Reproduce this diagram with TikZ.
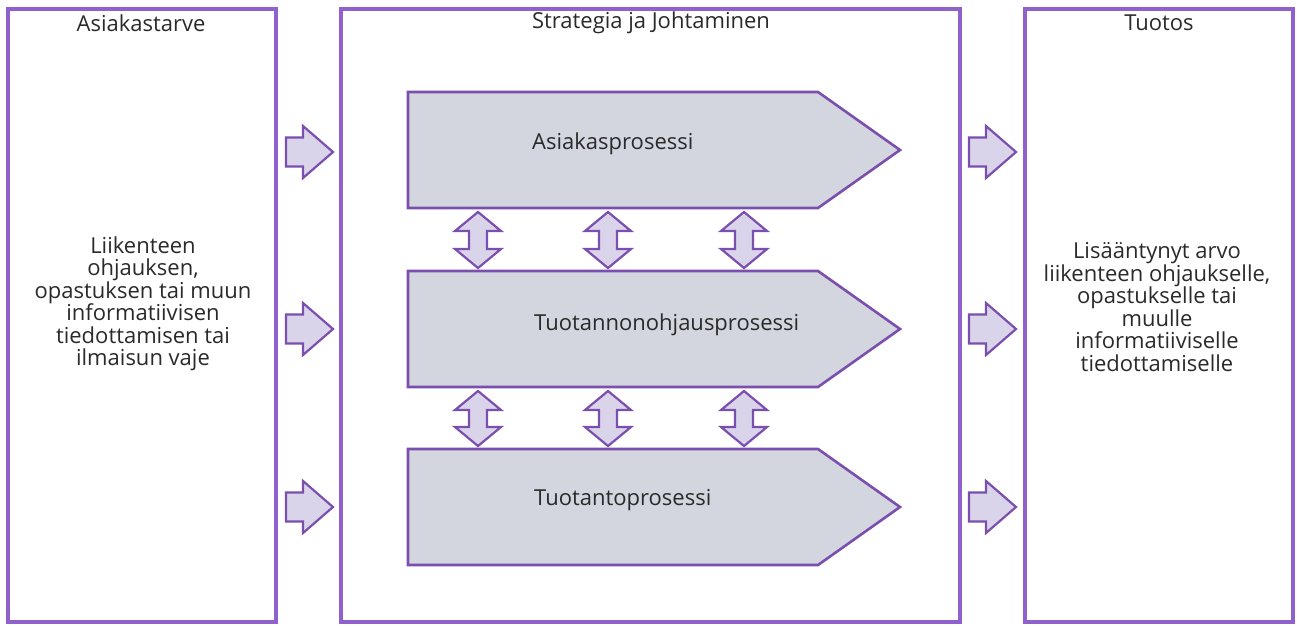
\documentclass[tikz,border=0pt]{standalone}
\usepackage{fontspec}
\setmainfont{Open Sans}
\definecolor{frame}{HTML}{9060CC}
\definecolor{edge}{HTML}{7A4FAE}
\definecolor{procfill}{HTML}{D3D6DE}
\definecolor{arrfill}{HTML}{DAD4EA}
\definecolor{ink}{HTML}{2A2A2A}
\tikzset{
  column/.style={draw=frame, line width=3.2pt},
  proc/.style={draw=edge, fill=procfill, line width=2.6pt, line join=miter},
  blockarrow/.style={draw=edge, fill=arrfill, line width=2.2pt, line join=miter},
  title/.style={font=\fontsize{22}{22.5}\selectfont, text=ink, anchor=center, inner sep=0pt},
  body/.style={font=\fontsize{22}{22.5}\selectfont, text=ink, align=center, anchor=center, inner sep=0pt},
  label/.style={font=\fontsize{22}{22.5}\selectfont, text=ink, anchor=west, inner sep=0pt},
}
% right-pointing block arrow with its tail centre at #1
\newcommand{\rightblock}[1]{%
  \draw[blockarrow] (#1) ++(0,-14.5) -- ++(17,0) -- ++(0,-11.5) -- ++(30,26)
    -- ++(-30,26) -- ++(0,-11.5) -- ++(-17,0) -- cycle;}
% vertical double-headed block arrow with its top tip at #1, total length #2
\newcommand{\updownblock}[2]{%
  \draw[blockarrow] (#1) -- ++(23,19) -- ++(-14,0) -- ++(0,#2-38) -- ++(14,0)
    -- ++(-23,19) -- ++(-23,-19) -- ++(14,0) -- ++(0,-#2+38) -- ++(-14,0) -- cycle;}
% process pentagon with top-left corner at #1
\newcommand{\procshape}[1]{%
  \draw[proc] (#1) -- ++(410,0) -- ++(82,58) -- ++(-82,58) -- ++(-410,0) -- cycle;}
\begin{document}
\begin{tikzpicture}[x=1pt,y=-1pt]
\useasboundingbox (0,0) rectangle (1297,625);

% three columns
\draw[column] (8,9) rectangle (276,622);
\draw[column] (341,9) rectangle (960,622);
\draw[column] (1025,9) rectangle (1293,622);

\node[title] (need) at (141,23) {Asiakastarve};
\node[title] (mgmt) at (651,23) {Strategia ja Johtaminen};
\node[title] (out) at (1159,23) {Tuotos};

\node[body] (needtext) at (143,304) {Liikenteen\\ohjauksen,\\opastuksen tai muun\\informatiivisen\\tiedottamisen tai\\ilmaisun vaje};
\node[body] (outtext) at (1157,307) {Lisääntynyt arvo\\liikenteen ohjaukselle,\\opastukselle tai\\muulle\\informatiiviselle\\tiedottamiselle};

% processes
\coordinate (p1) at (408,92);
\coordinate (p2) at (408,271);
\coordinate (p3) at (408,449);
\procshape{p1}
\procshape{p2}
\procshape{p3}
\node[label] (asiakas) at (532,144) {Asiakasprosessi};
\node[label] (ohjaus) at (534,325) {Tuotannonohjausprosessi};
\node[label] (tuotanto) at (534,500) {Tuotantoprosessi};

% links between processes
\foreach \x [count=\i] in {478,608,744}{
  \coordinate (u\i) at (\x,212);
  \coordinate (d\i) at (\x,391);
  \updownblock{u\i}{56}
  \updownblock{d\i}{55}
}

% inputs and outputs
\foreach \y [count=\i] in {152,329,507}{
  \coordinate (in\i) at (286,\y);
  \coordinate (out\i) at (969,\y);
  \rightblock{in\i}
  \rightblock{out\i}
}
\end{tikzpicture}
\end{document}
